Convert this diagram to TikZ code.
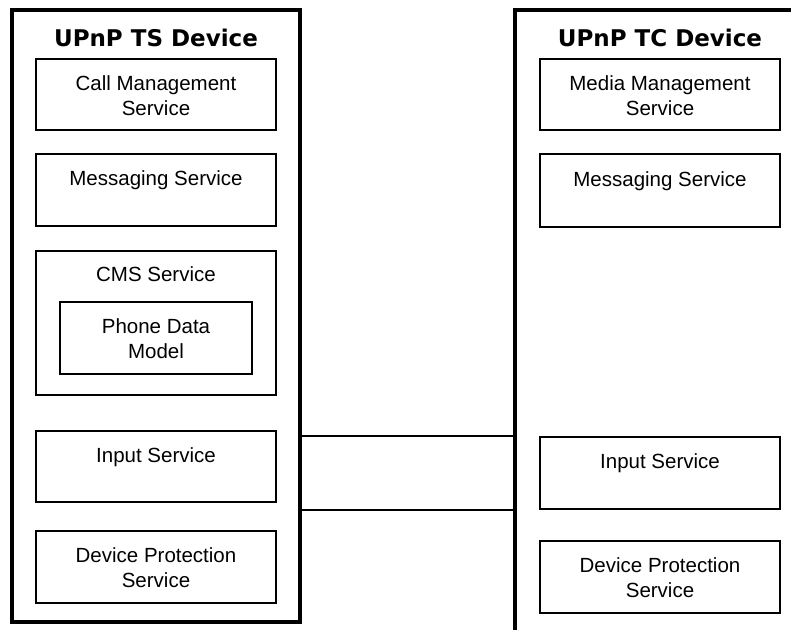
\documentclass[tikz,border=0pt]{standalone}
\usepackage{fontspec}
\setmainfont{Liberation Sans}
\newfontfamily\ttlfont{DejaVu Sans}
\newcommand\bxstrut{\rule[-3.3pt]{0pt}{23.3pt}}
\begin{document}
\begin{tikzpicture}[x=1pt,y=-1pt,
  svc/.style={draw, line width=1.5pt, minimum width=240pt, minimum height=72pt,
    inner sep=0pt, align=center, font=\fontsize{20.5}{25}\selectfont},
  svctext/.style={inner sep=0pt, anchor=base, font=\fontsize{20.5}{25}\selectfont},
  devbox/.style={draw, line width=4pt, inner sep=0pt},
  devline/.style={line width=4pt},
  ttl/.style={font=\ttlfont\bfseries\fontsize{23}{28}\selectfont, anchor=base, inner sep=0pt},
  link/.style={line width=2pt}]
\useasboundingbox (0,0) rectangle (791,630);
% ---- TS device (left)
\node[devbox, minimum width=288pt, minimum height=612pt] (ts) at (156,316) {};
\node[ttl] (tst) at (156,46.5) {UPnP TS Device};
\node[svc, minimum height=71pt] (cm) at (156,94.5) {Call Management\bxstrut\\Service\bxstrut};
\node[svc] (msg) at (156,190) {Messaging Service\bxstrut\\\bxstrut};
\node[svc, minimum height=144pt] (cms) at (156,323) {};
\node[svctext] (cmst) at (156,281.5) {CMS Service};
\node[svc, minimum width=192pt] (pdm) at (156,338) {Phone Data\bxstrut\\Model\bxstrut};
\node[svc, minimum height=71pt] (in) at (156,466.5) {Input Service\bxstrut\\\bxstrut};
\node[svc] (dp) at (156,567) {Device Protection\bxstrut\\Service\bxstrut};
% ---- TC device (right)
\coordinate (tcw) at (515,10);
\coordinate (tctr) at (791,10);
\coordinate (tcbl) at (515,630);
\draw[devline] (tctr) -- (tcw) -- (tcbl);
\node[ttl] (tct) at (660,46.5) {UPnP TC Device};
\node[svc, minimum height=71pt] (mm) at (660,94.5) {Media Management\bxstrut\\Service\bxstrut};
\node[svc, minimum height=73pt] (rmsg) at (660,190.5) {Messaging Service\bxstrut\\\bxstrut};
\node[svc] (rin) at (660,473) {Input Service\bxstrut\\\bxstrut};
\node[svc] (rdp) at (660,577) {Device Protection\bxstrut\\Service\bxstrut};
% ---- connectors
\draw[link] (ts.east |- rin.north) -- (tcw |- rin.north);
\draw[link] (ts.east |- rin.south) -- (tcw |- rin.south);
\end{tikzpicture}
\end{document}
